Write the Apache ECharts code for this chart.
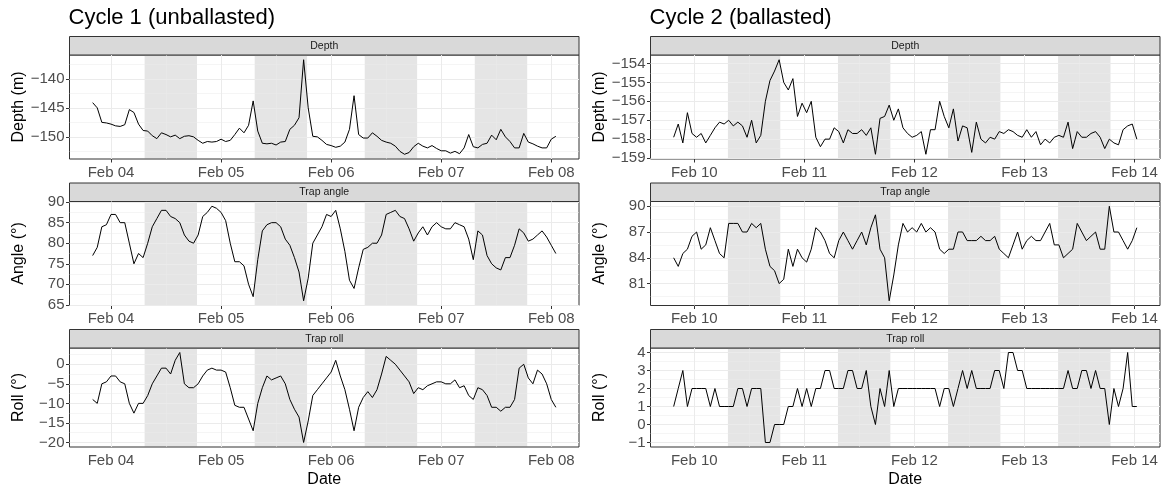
<!DOCTYPE html>
<html>
<head>
<meta charset="utf-8">
<script src="https://cdn.jsdelivr.net/npm/echarts@6/dist/echarts.min.js"></script>
<style>
  html, body { margin: 0; padding: 0; background: #fff; }
  #chart { width: 1164px; height: 489px; }
</style>
</head>
<body>
<div id="chart"></div>
<script>
// hourly samples, cycle 1 starts Feb 03 20:00, cycle 2 starts Feb 09 19:30
var HOUR = 3600 * 1000;
var cycle1Start = new Date(2023, 1, 3, 20, 0).getTime();
var cycle2Start = new Date(2023, 1, 9, 19, 30).getTime();

var cycle1Depth = [-144.1, -145.0, -147.5, -147.6, -147.8, -148.1, -148.2, -147.9, -145.3, -145.8,
  -147.8, -148.9, -149.0, -149.8, -150.3, -149.3, -149.6, -150.0, -149.7, -150.3,
  -149.9, -149.8, -150.0, -150.6, -151.1, -150.8, -150.9, -150.8, -150.4, -150.8,
  -150.6, -149.6, -148.5, -149.3, -148.0, -143.8, -149.0, -151.1, -151.2, -151.1,
  -151.4, -150.9, -150.8, -148.7, -148.0, -146.7, -136.7, -145.0, -149.9, -150.0,
  -150.6, -151.3, -151.5, -151.8, -151.6, -150.9, -148.7, -142.9, -149.6, -150.2,
  -150.2, -149.3, -149.9, -150.6, -150.9, -151.1, -151.6, -152.5, -153.0, -152.7,
  -151.7, -151.1, -151.6, -151.9, -151.5, -152.0, -152.4, -152.4, -152.8, -152.5,
  -152.9, -151.9, -149.6, -151.7, -151.9, -151.3, -151.1, -149.7, -150.5, -148.7,
  -150.0, -150.8, -151.9, -151.9, -149.4, -150.9, -151.2, -151.6, -151.9, -151.9,
  -150.4, -149.9];
var cycle1Angle = [77, 79, 84, 84.5, 87, 87, 85, 85, 80, 75,
  77.5, 76.5, 80, 84, 86, 88, 88, 86.5, 86, 85,
  82, 80.5, 80, 82, 86.5, 87.5, 89, 88.5, 87.5, 85.5,
  80, 75.5, 75.5, 74.5, 70, 67, 76, 83, 84.5, 85,
  85, 84, 81, 79.5, 76.5, 73, 66, 71.5, 80, 82,
  84, 87, 86.5, 88, 83.5, 78, 71, 69, 74, 78.5,
  79, 80, 80, 82, 87, 87.5, 88, 86.5, 86, 83.5,
  80.5, 82.5, 84, 82, 84, 85, 84, 83.5, 83.5, 85,
  84.5, 84, 81, 76, 83, 82, 77, 75, 74, 73.5,
  76.5, 76.5, 79.5, 83.5, 82.5, 80.5, 81, 82, 83, 81.5,
  79.5, 77.5];
var cycle1Roll = [-9, -10, -5, -4.5, -3, -3, -4.5, -5, -10, -12.5,
  -10, -10, -8, -5, -3, -1, -1, -2.5, 1, 3,
  -5, -6, -6, -5, -3, -1.5, -1, -1.5, -1.5, -2,
  -6, -10.5, -11, -11, -14, -17, -10, -6, -3, -4,
  -3.5, -3, -5, -9, -11.5, -13.5, -20, -14.5, -8, -6.5,
  -5, -3.5, -2, 1, -3, -6.5, -11.5, -17, -11, -8.5,
  -7, -8.5, -6.5, -2.5, 2, 1, 0, -1.5, -3, -4.5,
  -7.5, -6, -6.5, -5.5, -5, -4.5, -4.5, -5, -5, -4,
  -6, -5.5, -8, -9, -6, -6.5, -8, -11, -11, -12,
  -11, -11, -9, -1, 0, -3.5, -5, -1.5, -2.5, -5,
  -9, -11];

var cycle2Depth = [-157.9, -157.2, -158.2, -156.6, -157.7, -157.9, -157.7, -158.2, -157.8, -157.4,
  -157.1, -157.2, -157.0, -157.3, -157.1, -157.3, -157.9, -157.0, -158.2, -157.8,
  -156.0, -154.9, -154.4, -153.8, -155.0, -155.4, -154.8, -156.8, -156.1, -156.6,
  -156.0, -157.9, -158.4, -158.0, -158.0, -157.4, -157.6, -158.2, -157.5, -157.7,
  -157.7, -157.5, -157.8, -157.4, -158.8, -156.9, -156.8, -156.2, -157.0, -156.4,
  -157.4, -157.7, -157.9, -157.8, -157.6, -158.8, -157.5, -157.5, -156.0, -156.8,
  -157.4, -156.4, -158.1, -157.3, -157.4, -158.7, -157.1, -158.0, -158.2, -157.9,
  -158.0, -157.6, -157.7, -157.5, -157.6, -157.8, -157.9, -157.5, -157.9, -157.6,
  -158.3, -158.0, -158.2, -157.9, -157.8, -157.9, -157.1, -158.5, -157.6, -157.9,
  -157.9, -157.7, -157.6, -157.9, -158.5, -158.0, -158.2, -158.3, -157.5, -157.3,
  -157.2, -158.0];
var cycle2Angle = [84, 83, 84.5, 85, 86.5, 87, 85, 85.5, 87.5, 86,
  84.5, 84, 88, 88, 88, 87, 87, 88, 87.5, 88,
  85, 83, 82.5, 81, 81.5, 85, 83, 85, 84, 83.5,
  85, 87.5, 87, 86, 84.5, 84, 86, 87, 86, 85,
  86, 87, 85.5, 87.5, 89, 85, 84, 79, 82, 85.5,
  88, 87, 87.5, 87, 88, 87, 87.5, 87, 85, 84.5,
  85, 85, 87, 87, 86, 86, 86, 86.5, 86, 86,
  86.5, 85, 84.5, 84, 85.5, 87, 85, 86, 86.5, 86,
  86, 87, 88, 85.5, 85.5, 84, 84.5, 85, 88, 87,
  86, 86.5, 87, 85, 85, 90, 87, 87, 86, 85,
  86, 87.5];
var cycle2Roll = [1, 2, 3, 1, 2, 2, 2, 2, 1, 2,
  1, 1, 1, 1, 2, 2, 1, 2, 2, 2,
  -1, -1, 0, 0, 0, 1, 1, 2, 1, 2,
  1, 2, 2, 3, 3, 2, 2, 2, 3, 3,
  2, 2, 3, 1, 0, 2, 1, 3, 1, 2,
  2, 2, 2, 2, 2, 2, 2, 2, 1, 2,
  2, 1, 2, 3, 2, 3, 2, 2, 2, 2,
  3, 3, 2, 4, 4, 3, 3, 2, 2, 2,
  2, 2, 2, 2, 2, 2, 3, 2, 2, 3,
  3, 2, 3, 2, 2, 0, 2, 1, 2, 4,
  1, 1];

// tick labels
var cycle1Days = [4, 5, 6, 7, 8];
var cycle2Days = [10, 11, 12, 13, 14];
var depth1Ticks = [-150, -145, -140];
var angle1Ticks = [65, 70, 75, 80, 85, 90];
var roll1Ticks = [-20, -15, -10, -5, 0];
var depth2Ticks = [-159, -158, -157, -156, -155, -154];
var angle2Ticks = [81, 84, 87, 90];
var roll2Ticks = [-1, 0, 1, 2, 3, 4];

// shaded daytime, hours of day
var shadeFrom = 7.33;
var shadeTo = 18.75;

var FONT = 'Liberation Sans';
var MONTHS = ['Jan', 'Feb', 'Mar', 'Apr', 'May', 'Jun', 'Jul', 'Aug', 'Sep', 'Oct', 'Nov', 'Dec'];

var colLeft = [69.5, 650.5];
var colWidth = 509.5;
var rowTop = [55, 201.5, 348];
var rowHeight = 104;
var stripH = 18.5;

function toPoints(start, values) {
  return values.map(function (v, i) { return [start + i * HOUR, v]; });
}
function pad(lo, hi) {
  var d = (hi - lo) * 0.05;
  return [lo - d, hi + d];
}
function dayTime(d, h) {
  return new Date(2023, 1, d).getTime() + h * HOUR;
}

var panels = [
  { col: 0, row: 0, strip: 'Depth', yName: 'Depth (m)', start: cycle1Start, values: cycle1Depth, ticks: depth1Ticks, days: cycle1Days },
  { col: 0, row: 1, strip: 'Trap angle', yName: 'Angle (°)', start: cycle1Start, values: cycle1Angle, ticks: angle1Ticks, days: cycle1Days },
  { col: 0, row: 2, strip: 'Trap roll', yName: 'Roll (°)', start: cycle1Start, values: cycle1Roll, ticks: roll1Ticks, days: cycle1Days },
  { col: 1, row: 0, strip: 'Depth', yName: 'Depth (m)', start: cycle2Start, values: cycle2Depth, ticks: depth2Ticks, days: cycle2Days },
  { col: 1, row: 1, strip: 'Trap angle', yName: 'Angle (°)', start: cycle2Start, values: cycle2Angle, ticks: angle2Ticks, days: cycle2Days },
  { col: 1, row: 2, strip: 'Trap roll', yName: 'Roll (°)', start: cycle2Start, values: cycle2Roll, ticks: roll2Ticks, days: cycle2Days }
];

var grids = [], xAxes = [], yAxes = [], series = [], graphics = [];

panels.forEach(function (p, k) {
  var pts = toPoints(p.start, p.values);
  var xr = pad(pts[0][0], pts[pts.length - 1][0]);
  var yr = pad(Math.min.apply(null, p.values), Math.max.apply(null, p.values));
  var dayTicks = p.days.map(function (d) { return dayTime(d, 0); });
  var left = colLeft[p.col], top = rowTop[p.row];

  grids.push({ left: left, top: top, width: colWidth, height: rowHeight, show: true,
    borderColor: '#333333', borderWidth: 1, backgroundColor: 'transparent' });

  xAxes.push({
    gridIndex: k, type: 'value', min: xr[0], max: xr[1],
    axisLine: { show: false },
    axisTick: { show: true, customValues: dayTicks, length: 3.5, lineStyle: { color: '#333333', width: 1 } },
    axisLabel: {
      customValues: dayTicks, color: '#4d4d4d', fontSize: 15, fontFamily: FONT, margin: 6,
      formatter: function (v) {
        var d = new Date(v);
        return MONTHS[d.getMonth()] + ' ' + (d.getDate() < 10 ? '0' : '') + d.getDate();
      }
    },
    splitLine: { show: false },
    name: p.row === 2 ? 'Date' : '', nameLocation: 'middle', nameGap: 25,
    nameTextStyle: { color: '#000', fontSize: 16, fontFamily: FONT }
  });

  yAxes.push({
    gridIndex: k, type: 'value', min: yr[0], max: yr[1],
    axisLine: { show: false },
    axisTick: { show: true, customValues: p.ticks, length: 3.5, lineStyle: { color: '#333333', width: 1 } },
    axisLabel: {
      customValues: p.ticks, color: '#4d4d4d', fontSize: 15, fontFamily: FONT, margin: 5,
      formatter: function (v) { return String(v).replace('-', '\u2212'); }
    },
    splitLine: { show: false },
    name: p.yName, nameLocation: 'middle', nameGap: 43,
    nameTextStyle: { color: '#000', fontSize: 16, fontFamily: FONT }
  });

  // grid lines: major at ticks, minor half way
  var lines = [];
  var step = p.ticks[1] - p.ticks[0];
  p.ticks.forEach(function (v) { lines.push({ yAxis: v, lineStyle: { width: 1 } }); });
  for (var m = p.ticks[0] - step / 2; m < yr[1]; m += step) {
    if (m > yr[0]) lines.push({ yAxis: m, lineStyle: { width: 0.5 } });
  }
  dayTicks.forEach(function (t) { lines.push({ xAxis: t, lineStyle: { width: 1 } }); });
  for (var d = p.days[0] - 1; d <= p.days[p.days.length - 1]; d++) {
    var noon = dayTime(d, 12);
    if (noon > xr[0] && noon < xr[1]) lines.push({ xAxis: noon, lineStyle: { width: 0.5 } });
  }

  var bands = p.days.slice(0, 4).map(function (d) {
    return [{ xAxis: dayTime(d, shadeFrom) }, { xAxis: dayTime(d, shadeTo) }];
  });

  series.push({
    type: 'line', xAxisIndex: k, yAxisIndex: k, data: pts, z: 10,
    symbol: 'none', silent: true, animation: false,
    lineStyle: { color: '#000', width: 1 },
    markLine: {
      silent: true, symbol: ['none', 'none'], label: { show: false }, animation: false,
      lineStyle: { color: '#ebebeb', type: 'solid', width: 1 }, data: lines
    },
    markArea: {
      silent: true, animation: false, itemStyle: { color: 'rgba(127,127,127,0.2)' }, data: bands
    }
  });

  // facet strip
  graphics.push({
    type: 'rect', silent: true,
    shape: { x: left, y: top - stripH, width: colWidth, height: stripH },
    style: { fill: '#d9d9d9', stroke: '#333333', lineWidth: 1 }
  });
  graphics.push({
    type: 'text', silent: true, x: left + colWidth / 2, y: top - stripH / 2,
    style: { text: p.strip, fill: '#1a1a1a', font: '10.5px "' + FONT + '"', align: 'center', verticalAlign: 'middle' }
  });
});

var chart = echarts.init(document.getElementById('chart'));
chart.setOption({
  animation: false,
  backgroundColor: '#fff',
  title: [
    { text: 'Cycle 1 (unballasted)', left: colLeft[0] - 1, top: 7, padding: 0,
      textStyle: { fontSize: 22, fontWeight: 'normal', color: '#000', fontFamily: FONT } },
    { text: 'Cycle 2 (ballasted)', left: colLeft[1] - 1, top: 7, padding: 0,
      textStyle: { fontSize: 22, fontWeight: 'normal', color: '#000', fontFamily: FONT } }
  ],
  grid: grids,
  xAxis: xAxes,
  yAxis: yAxes,
  series: series,
  graphic: graphics
});
</script>
</body>
</html>
